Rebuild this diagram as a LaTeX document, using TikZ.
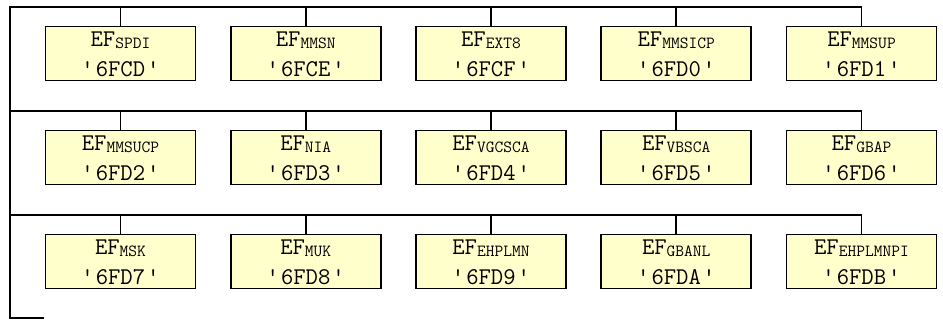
\documentclass[tikz,border=0pt]{standalone}
\usepackage{fontspec}
\usetikzlibrary{calc}
\definecolor{boxfill}{HTML}{FFFFCC}
\newcommand{\efsub}[1]{\raisebox{-1.5pt}{\fontsize{17}{17}\selectfont #1}}
\newcommand{\efcode}[1]{'\kern2pt#1\kern2pt'}
\begin{document}
\begin{tikzpicture}[x=1pt,y=-1pt,
  conn/.style={line width=1.6pt, draw=black},
  efbox/.style={draw=black, line width=1.6pt, fill=boxfill, minimum width=150pt, minimum height=54pt, inner sep=0pt},
  lbl/.style={inner sep=0pt, anchor=base, font=\ttfamily\fontsize{24}{24}\selectfont}]
\useasboundingbox (0,0) rectangle (943,320);
% row bus coordinates
\coordinate (L0) at (10,7);
\coordinate (L1) at (10,111);
\coordinate (L2) at (10,215);
\coordinate (Lend) at (10,318);
\coordinate (Ltail) at (44,318);
% boxes
\foreach \i/\sub/\code [count=\n from 0] in {
  1/SPDI/6FCD, 2/MMSN/6FCE, 3/EXT8/6FCF, 4/MMSICP/6FD0, 5/MMSUP/6FD1,
  6/MMSUCP/6FD2, 7/NIA/6FD3, 8/VGCSCA/6FD4, 9/VBSCA/6FD5, 10/GBAP/6FD6,
  11/MSK/6FD7, 12/MUK/6FD8, 13/EHPLMN/6FD9, 14/GBANL/6FDA, 15/EHPLMNPI/6FDB}{
  \pgfmathsetmacro{\col}{mod(\n,5)}
  \pgfmathsetmacro{\row}{int(\n/5)}
  \node[efbox] (b\i) at ({120.5+185.25*\col},{53.5+104*\row}) {};
  \node[lbl] (e\i) at ($(b\i.north)+(0,21)$) {EF\efsub{\sub}};
  \node[lbl] (c\i) at ($(b\i.north)+(0,51)$) {\efcode{\code}};
}
% connectors
\draw[conn] (Ltail) -- (Lend) -- (L0) -| (b5.north);
\draw[conn] (L1) -| (b10.north);
\draw[conn] (L2) -| (b15.north);
\foreach \i in {1,2,3,4}{\draw[conn] (b\i.north |- L0) -- (b\i.north);}
\foreach \i in {6,7,8,9}{\draw[conn] (b\i.north |- L1) -- (b\i.north);}
\foreach \i in {11,12,13,14}{\draw[conn] (b\i.north |- L2) -- (b\i.north);}
\end{tikzpicture}
\end{document}
